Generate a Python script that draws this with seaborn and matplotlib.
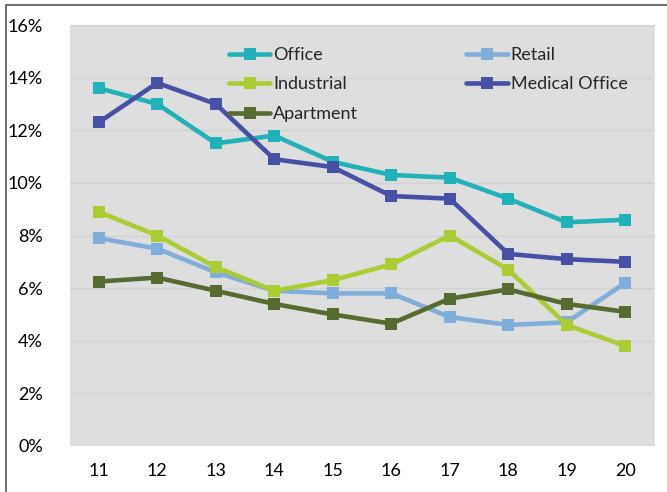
import matplotlib
matplotlib.use("Agg")
from matplotlib import pyplot as plt
from matplotlib.patches import Rectangle
from matplotlib.ticker import FuncFormatter
import seaborn as sns
import pandas as pd

years = [11, 12, 13, 14, 15, 16, 17, 18, 19, 20]
office = [13.6, 13.0, 11.5, 11.8, 10.8, 10.3, 10.2, 9.4, 8.5, 8.6]
retail = [7.9, 7.5, 6.6, 5.9, 5.8, 5.8, 4.9, 4.6, 4.7, 6.2]
industrial = [8.9, 8.0, 6.8, 5.9, 6.3, 6.9, 8.0, 6.7, 4.6, 3.8]
medical_office = [12.3, 13.8, 13.0, 10.9, 10.6, 9.5, 9.4, 7.3, 7.1, 7.0]
apartment = [6.25, 6.4, 5.9, 5.4, 5.0, 4.65, 5.6, 5.95, 5.4, 5.1]

series = {
    "Office": office,
    "Retail": retail,
    "Industrial": industrial,
    "Medical Office": medical_office,
    "Apartment": apartment,
}
colors = {
    "Office": "#20B1B9",
    "Retail": "#7EAED9",
    "Industrial": "#A9CD33",
    "Medical Office": "#4650A5",
    "Apartment": "#566B30",
}


def main():
    sns.set_style("white")
    plt.rcParams['font.family'] = ['Lato', 'DejaVu Sans']

    fig = plt.figure(figsize=(6.67, 4.92), dpi=100)
    ax = fig.add_axes([69.5 / 667, 46 / 492, 585 / 667, 421 / 492])
    ax.set_facecolor("#DEDEDE")

    handles = {}
    for name, vals in series.items():
        df = pd.DataFrame({"year": years, "value": vals})
        sns.lineplot(data=df, x="year", y="value", ax=ax, color=colors[name],
                     linewidth=3.3, marker="s", markersize=8, markeredgewidth=0,
                     label=name, legend=False)
        handles[name] = ax.lines[-1]

    ax.set_xlim(10.5, 20.5)
    ax.set_ylim(0, 16)
    ax.set_yticks(range(0, 17, 2))
    ax.yaxis.set_major_formatter(FuncFormatter(lambda v, p: f"{int(v)}%"))
    ax.set_xticks(years)
    ax.set_xticklabels([str(y) for y in years])
    ax.grid(axis="y", color="#D2D2D2", linewidth=1)
    ax.set_axisbelow(True)
    ax.tick_params(axis="both", length=0, labelsize=13, colors="black")
    ax.tick_params(axis="y", pad=19)
    ax.tick_params(axis="x", pad=12)
    ax.set_xlabel("")
    ax.set_ylabel("")
    for s in ax.spines.values():
        s.set_visible(False)

    order = ["Office", "Industrial", "Apartment", "Retail", "Medical Office"]
    ax.legend([handles[n] for n in order], order, ncol=2, frameon=False,
              loc="upper left", bbox_to_anchor=(0.26, 0.965), fontsize=13,
              handlelength=2.3, handletextpad=0.15, columnspacing=6.0,
              labelspacing=0.75, borderaxespad=0)

    fig.patches.append(Rectangle((6 / 667, -0.05), 1.2, 1.05 - 5 / 492,
                                 transform=fig.transFigure, fill=False,
                                 edgecolor="#555555", linewidth=1.2))

    fig.savefig("out.png", dpi=100)


if __name__ == '__main__':
    main()
